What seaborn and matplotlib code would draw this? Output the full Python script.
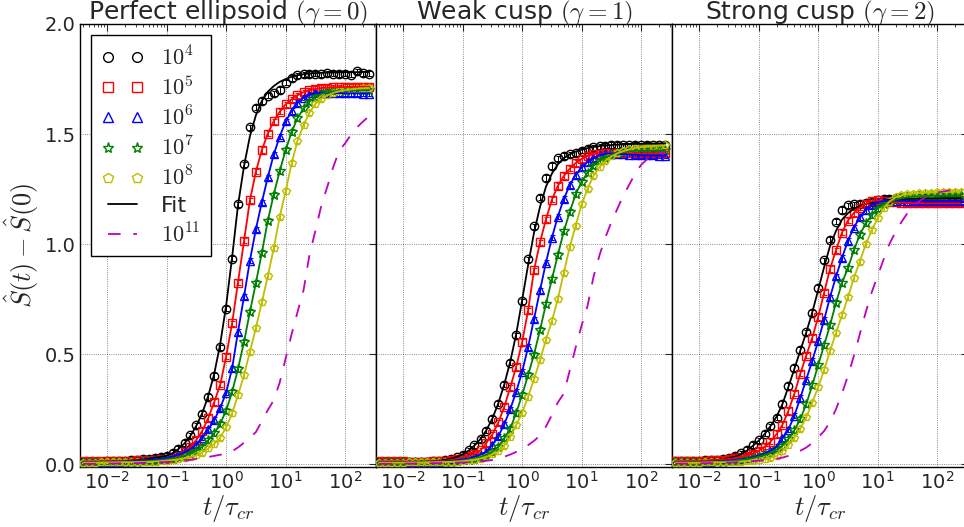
import matplotlib
matplotlib.use("Agg")
import matplotlib.pyplot as plt
from matplotlib.lines import Line2D
from matplotlib.ticker import LogLocator, NullFormatter, FixedLocator
import pandas as pd
import seaborn as sns

# ---------------- data ----------------
t = [0.00398, 0.00501, 0.00631, 0.00794, 0.0100, 0.0126, 0.0158, 0.0200, 0.0251, 0.0316,
     0.0398, 0.0501, 0.0631, 0.0794, 0.100, 0.126, 0.158, 0.200, 0.251, 0.316,
     0.398, 0.501, 0.631, 0.794, 1.00, 1.26, 1.58, 2.00, 2.51, 3.16,
     3.98, 5.01, 6.31, 7.94, 10.0, 12.6, 15.8, 20.0, 25.1, 31.6,
     39.8, 50.1, 63.1, 79.4, 100.0, 126.0, 158.0, 200.0, 251.0]

series_labels = [r"$10^4$", r"$10^5$", r"$10^6$", r"$10^7$", r"$10^8$"]
fit_label = "Fit"
far_label = r"$10^{11}$"
panel_titles = [r"Perfect ellipsoid $(\gamma=0)$", r"Weak cusp $(\gamma=1)$",
                r"Strong cusp $(\gamma=2)$"]

# Panel 1: perfect ellipsoid
p1_n4 = [0.010, 0.010, 0.011, 0.011, 0.012, 0.013, 0.014, 0.015, 0.017, 0.019, 0.021, 0.024, 0.028, 0.032, 0.036,
         0.051, 0.070, 0.096, 0.130, 0.176, 0.229, 0.304, 0.400, 0.530, 0.706,
         0.934, 1.180, 1.363, 1.530, 1.620, 1.650, 1.675, 1.685, 1.700, 1.733,
         1.755, 1.767, 1.772, 1.773, 1.775, 1.772, 1.776, 1.774, 1.773, 1.775, 1.770, 1.785, 1.776, 1.775]
p1_fit_n4 = [0.006, 0.007, 0.008, 0.009, 0.010, 0.011, 0.012, 0.014, 0.016, 0.018, 0.021, 0.024, 0.028, 0.032, 0.038,
             0.050, 0.068, 0.094, 0.128, 0.174, 0.232, 0.310, 0.410, 0.545, 0.720,
             0.940, 1.175, 1.355, 1.490, 1.585, 1.650, 1.692, 1.718, 1.737, 1.750,
             1.760, 1.767, 1.772, 1.775, 1.777, 1.778, 1.779, 1.780, 1.780, 1.781, 1.781, 1.781, 1.782, 1.782]
p1_n5 = [0.012, 0.012, 0.012, 0.012, 0.013, 0.013, 0.014, 0.014, 0.015, 0.016, 0.017, 0.018, 0.020, 0.022, 0.024,
         0.028, 0.036, 0.053, 0.077, 0.110, 0.151, 0.209, 0.282, 0.360, 0.488,
         0.640, 0.824, 1.015, 1.198, 1.329, 1.427, 1.502, 1.558, 1.601, 1.635,
         1.658, 1.676, 1.690, 1.699, 1.705, 1.709, 1.711, 1.712, 1.713, 1.714, 1.714, 1.715, 1.715, 1.715]
p1_n6 = [0.009, 0.009, 0.010, 0.010, 0.010, 0.011, 0.011, 0.012, 0.013, 0.014, 0.016, 0.018, 0.021, 0.024, 0.028,
         0.034, 0.042, 0.053, 0.068, 0.090, 0.120, 0.157, 0.200, 0.255, 0.324,
         0.435, 0.600, 0.762, 0.925, 1.067, 1.190, 1.303, 1.407, 1.488, 1.557,
         1.604, 1.641, 1.665, 1.679, 1.686, 1.688, 1.687, 1.686, 1.686, 1.685, 1.685, 1.685, 1.684, 1.684]
p1_n7 = [0.008, 0.008, 0.008, 0.009, 0.009, 0.009, 0.010, 0.010, 0.010, 0.011, 0.012, 0.013, 0.015, 0.018, 0.021,
         0.025, 0.030, 0.037, 0.047, 0.060, 0.078, 0.108, 0.140, 0.183, 0.243,
         0.328, 0.432, 0.556, 0.692, 0.823, 0.960, 1.106, 1.225, 1.331, 1.427,
         1.509, 1.572, 1.616, 1.647, 1.668, 1.682, 1.690, 1.694, 1.696, 1.697, 1.698, 1.698, 1.699, 1.699]
p1_n8 = [0.006, 0.006, 0.006, 0.007, 0.007, 0.007, 0.008, 0.008, 0.008, 0.009, 0.009, 0.010, 0.011, 0.013, 0.015,
         0.018, 0.021, 0.026, 0.032, 0.040, 0.052, 0.071, 0.091, 0.120, 0.166,
         0.231, 0.312, 0.405, 0.511, 0.618, 0.735, 0.854, 0.980, 1.124, 1.240,
         1.366, 1.469, 1.540, 1.597, 1.637, 1.660, 1.676, 1.687, 1.694, 1.699, 1.703, 1.706, 1.708, 1.709]
p1_n11 = [0.001, 0.001, 0.001, 0.002, 0.002, 0.002, 0.003, 0.003, 0.004, 0.004, 0.005, 0.006, 0.007, 0.008, 0.009,
          0.010, 0.012, 0.015, 0.019, 0.023, 0.027, 0.032, 0.037, 0.042, 0.048,
          0.058, 0.075, 0.097, 0.120, 0.145, 0.195, 0.245, 0.290, 0.370, 0.480,
          0.590, 0.690, 0.790, 0.950, 1.060, 1.175, 1.260, 1.350, 1.424, 1.458, 1.497, 1.530, 1.557, 1.580]

# Panel 2: weak cusp
p2_n4 = [0.007, 0.007, 0.007, 0.007, 0.008, 0.008, 0.009, 0.010, 0.011, 0.013, 0.015, 0.019, 0.024, 0.031, 0.043,
         0.062, 0.085, 0.113, 0.152, 0.205, 0.275, 0.360, 0.460, 0.585, 0.740,
         0.930, 1.080, 1.210, 1.300, 1.355, 1.390, 1.400, 1.407, 1.413, 1.424,
         1.432, 1.440, 1.444, 1.447, 1.450, 1.450, 1.448, 1.449, 1.450, 1.449, 1.450, 1.449, 1.450, 1.450]
p2_fit_n4 = [0.004, 0.005, 0.005, 0.006, 0.007, 0.008, 0.009, 0.010, 0.011, 0.013, 0.015, 0.019, 0.024, 0.032, 0.044,
             0.061, 0.084, 0.114, 0.154, 0.207, 0.276, 0.362, 0.465, 0.590, 0.745,
             0.905, 1.050, 1.170, 1.260, 1.320, 1.362, 1.390, 1.408, 1.420, 1.429,
             1.436, 1.441, 1.445, 1.448, 1.450, 1.452, 1.453, 1.454, 1.455, 1.455, 1.456, 1.456, 1.456, 1.457]
p2_n5 = [0.012, 0.012, 0.012, 0.012, 0.012, 0.011, 0.011, 0.011, 0.011, 0.012, 0.013, 0.015, 0.018, 0.022, 0.028,
         0.036, 0.046, 0.062, 0.096, 0.135, 0.189, 0.260, 0.348, 0.441, 0.554,
         0.698, 0.880, 1.008, 1.112, 1.201, 1.264, 1.309, 1.343, 1.368, 1.387,
         1.401, 1.408, 1.411, 1.412, 1.413, 1.413, 1.413, 1.413, 1.412, 1.412, 1.412, 1.412, 1.412, 1.412]
p2_n6 = [0.008, 0.008, 0.008, 0.008, 0.008, 0.008, 0.009, 0.009, 0.009, 0.010, 0.011, 0.012, 0.014, 0.017, 0.021,
         0.026, 0.033, 0.043, 0.055, 0.087, 0.126, 0.181, 0.249, 0.328, 0.419,
         0.532, 0.658, 0.790, 0.915, 1.028, 1.125, 1.204, 1.268, 1.314, 1.348,
         1.373, 1.390, 1.405, 1.411, 1.412, 1.410, 1.408, 1.406, 1.405, 1.404, 1.403, 1.403, 1.402, 1.402]
p2_n7 = [0.007, 0.007, 0.007, 0.007, 0.007, 0.008, 0.008, 0.008, 0.009, 0.009, 0.009, 0.010, 0.011, 0.013, 0.016,
         0.020, 0.025, 0.032, 0.042, 0.056, 0.078, 0.117, 0.161, 0.232, 0.314,
         0.404, 0.497, 0.610, 0.726, 0.840, 0.950, 1.057, 1.146, 1.226, 1.283,
         1.325, 1.356, 1.378, 1.393, 1.405, 1.413, 1.418, 1.421, 1.423, 1.424, 1.425, 1.425, 1.426, 1.426]
p2_n8 = [0.006, 0.006, 0.006, 0.006, 0.006, 0.007, 0.007, 0.007, 0.008, 0.008, 0.009, 0.009, 0.010, 0.011, 0.013,
         0.016, 0.020, 0.025, 0.033, 0.044, 0.057, 0.083, 0.122, 0.177, 0.233,
         0.305, 0.385, 0.472, 0.565, 0.650, 0.750, 0.869, 0.986, 1.084, 1.180,
         1.251, 1.310, 1.350, 1.378, 1.398, 1.412, 1.422, 1.430, 1.436, 1.440, 1.443, 1.445, 1.447, 1.448]
p2_n11 = [0.001, 0.001, 0.001, 0.001, 0.002, 0.002, 0.002, 0.003, 0.003, 0.004, 0.004, 0.005, 0.005, 0.006, 0.007,
          0.008, 0.010, 0.012, 0.015, 0.018, 0.025, 0.033, 0.043, 0.055, 0.068,
          0.086, 0.105, 0.130, 0.170, 0.222, 0.280, 0.320, 0.425, 0.530, 0.630,
          0.720, 0.850, 0.950, 1.030, 1.100, 1.160, 1.220, 1.270, 1.320, 1.360, 1.385, 1.400, 1.410, 1.418]

# Panel 3: strong cusp
p3_n4 = [0.012, 0.012, 0.013, 0.014, 0.015, 0.016, 0.018, 0.020, 0.023, 0.028, 0.036, 0.048, 0.064, 0.086, 0.108,
         0.138, 0.171, 0.211, 0.273, 0.355, 0.436, 0.518, 0.598, 0.686, 0.800,
         0.926, 1.020, 1.101, 1.155, 1.176, 1.180, 1.183, 1.187, 1.192, 1.199,
         1.205, 1.206, 1.207, 1.207, 1.208, 1.207, 1.208, 1.208, 1.207, 1.208, 1.208, 1.208, 1.208, 1.208]
p3_fit_n4 = [0.008, 0.009, 0.010, 0.011, 0.012, 0.014, 0.016, 0.018, 0.021, 0.026, 0.033, 0.044, 0.060, 0.082, 0.106,
             0.136, 0.172, 0.215, 0.272, 0.350, 0.432, 0.515, 0.598, 0.688, 0.790,
             0.895, 0.990, 1.060, 1.110, 1.140, 1.160, 1.173, 1.182, 1.189, 1.194,
             1.198, 1.201, 1.203, 1.204, 1.205, 1.206, 1.206, 1.207, 1.207, 1.207, 1.208, 1.208, 1.208, 1.208]
p3_n5 = [0.013, 0.013, 0.013, 0.013, 0.014, 0.015, 0.016, 0.018, 0.020, 0.023, 0.027, 0.032, 0.038, 0.047, 0.060,
         0.078, 0.101, 0.136, 0.178, 0.241, 0.319, 0.410, 0.493, 0.573, 0.668,
         0.778, 0.886, 0.972, 1.051, 1.106, 1.141, 1.165, 1.183, 1.195, 1.198,
         1.195, 1.191, 1.189, 1.188, 1.187, 1.186, 1.186, 1.185, 1.185, 1.185, 1.185, 1.185, 1.185, 1.185]
p3_n6 = [0.008, 0.008, 0.008, 0.009, 0.009, 0.010, 0.011, 0.012, 0.014, 0.016, 0.019, 0.022, 0.026, 0.031, 0.038,
         0.047, 0.060, 0.079, 0.116, 0.156, 0.219, 0.300, 0.384, 0.468, 0.559,
         0.655, 0.757, 0.853, 0.936, 1.014, 1.075, 1.121, 1.155, 1.177, 1.190,
         1.195, 1.197, 1.197, 1.197, 1.197, 1.196, 1.196, 1.196, 1.195, 1.195, 1.195, 1.195, 1.195, 1.195]
p3_n7 = [0.007, 0.007, 0.007, 0.007, 0.008, 0.008, 0.009, 0.010, 0.011, 0.013, 0.015, 0.018, 0.022, 0.027, 0.033,
         0.041, 0.052, 0.066, 0.083, 0.113, 0.153, 0.204, 0.272, 0.357, 0.449,
         0.540, 0.630, 0.734, 0.822, 0.890, 0.971, 1.042, 1.094, 1.131, 1.161,
         1.180, 1.193, 1.202, 1.208, 1.212, 1.215, 1.217, 1.218, 1.219, 1.220, 1.220, 1.221, 1.221, 1.222]
p3_n8 = [0.006, 0.006, 0.006, 0.006, 0.006, 0.007, 0.007, 0.008, 0.008, 0.009, 0.010, 0.011, 0.013, 0.015, 0.018,
         0.022, 0.028, 0.036, 0.059, 0.085, 0.119, 0.160, 0.212, 0.278, 0.349,
         0.428, 0.513, 0.597, 0.676, 0.757, 0.845, 0.920, 0.999, 1.062, 1.116,
         1.162, 1.193, 1.212, 1.222, 1.226, 1.229, 1.231, 1.233, 1.234, 1.235, 1.236, 1.237, 1.238, 1.238]
p3_n11 = [0.002, 0.002, 0.002, 0.003, 0.003, 0.004, 0.004, 0.005, 0.006, 0.007, 0.008, 0.009, 0.011, 0.013, 0.015,
          0.018, 0.021, 0.024, 0.029, 0.037, 0.048, 0.060, 0.075, 0.095, 0.120,
          0.150, 0.190, 0.250, 0.320, 0.400, 0.490, 0.590, 0.690, 0.780, 0.855,
          0.930, 1.000, 1.055, 1.100, 1.140, 1.170, 1.195, 1.212, 1.225, 1.233, 1.239, 1.243, 1.246, 1.248]

err_size = 0.012  # half-height of the small error bars on the markers

# ---------------- style ----------------
colors = ["k", "r", "b", "g", "y"]
markers = ["o", "s", "^", "*", "p"]
far_color = "m"

sns.set_style("white")
plt.rcParams.update({
    "font.family": ["DejaVu Sans"],
    "mathtext.fontset": "dejavusans",
    "xtick.direction": "in", "ytick.direction": "in",
    "xtick.top": True, "ytick.right": True,
    "xtick.major.size": 5, "ytick.major.size": 5,
    "xtick.minor.size": 2.5, "ytick.minor.size": 2.5,
    "xtick.major.width": 0.8, "ytick.major.width": 0.8,
    "axes.edgecolor": "k", "axes.linewidth": 1.0,
})

fig = plt.figure(figsize=(9.64, 5.27), dpi=100)
W, H = 964.0, 527.0
bottom = 1 - 467 / H
height = (467 - 24) / H
lefts = [80, 376, 672]
pw = 296

panels = [
    ([p1_n4, p1_n5, p1_n6, p1_n7, p1_n8], p1_fit_n4, p1_n11),
    ([p2_n4, p2_n5, p2_n6, p2_n7, p2_n8], p2_fit_n4, p2_n11),
    ([p3_n4, p3_n5, p3_n6, p3_n7, p3_n8], p3_fit_n4, p3_n11),
]

axes = []
for i, (series, fit_black, far) in enumerate(panels):
    ax = fig.add_axes([lefts[i] / W, bottom, pw / W, height])
    axes.append(ax)
    ax.set_xscale("log")
    # markers + error bars
    for j, vals in enumerate(series):
        df = pd.DataFrame({"t": t, "v": vals})
        ax.errorbar(df["t"], df["v"], yerr=err_size, fmt="none", ecolor=colors[j],
                    elinewidth=0.7, capsize=1.8, capthick=0.7, zorder=2)
        sns.lineplot(data=df, x="t", y="v", ax=ax, linestyle="", marker=markers[j],
                     markersize=7.5 if markers[j] == "*" else 6,
                     markerfacecolor="none", markeredgecolor=colors[j],
                     markeredgewidth=1.0, legend=False, errorbar=None, zorder=3)
    # fit lines
    for j, vals in enumerate(series):
        fv = fit_black if j == 0 else vals
        df = pd.DataFrame({"t": t, "v": fv})
        sns.lineplot(data=df, x="t", y="v", ax=ax, color=colors[j], linewidth=1.3,
                     legend=False, errorbar=None, zorder=4)
    dff = pd.DataFrame({"t": t, "v": far})
    sns.lineplot(data=dff, x="t", y="v", ax=ax, color=far_color, linewidth=1.3,
                 linestyle=(0, (7, 7)), legend=False, errorbar=None, zorder=4)

    ax.set_xlim(3.5e-3, 3.3e2)
    ax.set_ylim(-0.0136, 2.0)
    ax.xaxis.set_major_locator(LogLocator(base=10, numticks=20))
    ax.xaxis.set_minor_locator(LogLocator(base=10, subs=range(2, 10), numticks=20))
    ax.xaxis.set_minor_formatter(NullFormatter())
    ax.yaxis.set_major_locator(FixedLocator([0.0, 0.5, 1.0, 1.5, 2.0]))
    ax.grid(True, which="major", linestyle=":", color="k", linewidth=0.6, alpha=0.6)
    ax.tick_params(axis="both", which="both", labelsize=14)
    ax.tick_params(axis="x", which="major", pad=3)
    ax.tick_params(axis="y", which="major", pad=3)
    ax.set_xlabel(r"$t/\tau_{cr}$", fontsize=19, math_fontfamily="cm", labelpad=0)
    ax.set_title(panel_titles[i], fontsize=18, math_fontfamily="cm", pad=3)
    if i == 0:
        ax.set_ylabel(r"$\hat{S}(t)-\hat{S}(0)$", fontsize=19, math_fontfamily="cm", labelpad=3)
        ax.set_yticklabels(["0.0", "0.5", "1.0", "1.5", "2.0"])
    else:
        ax.set_ylabel("")
        ax.tick_params(axis="y", labelleft=False)
    for sp in ax.spines.values():
        sp.set_color("k")
        sp.set_linewidth(1.0)

# legend
handles = []
for j in range(5):
    handles.append(Line2D([], [], linestyle="", marker=markers[j],
                          markersize=8 if markers[j] == "*" else 7,
                          markerfacecolor="none", markeredgecolor=colors[j], markeredgewidth=1.0))
handles.append(Line2D([], [], color="k", linewidth=1.3))
handles.append(Line2D([], [], color=far_color, linewidth=1.3, linestyle=(0, (7, 7))))
labels = series_labels + [fit_label, far_label]
leg = axes[0].legend(handles, labels, loc="upper left", numpoints=2, fontsize=16,
                     frameon=True, fancybox=False, edgecolor="k", framealpha=1,
                     handlelength=1.9, labelspacing=0.28, borderaxespad=0.5,
                     handletextpad=0.8, borderpad=0.45)
leg.get_frame().set_linewidth(1.0)
for txt in leg.get_texts():
    txt.set_math_fontfamily("cm")

fig.savefig("out.png", dpi=100)
